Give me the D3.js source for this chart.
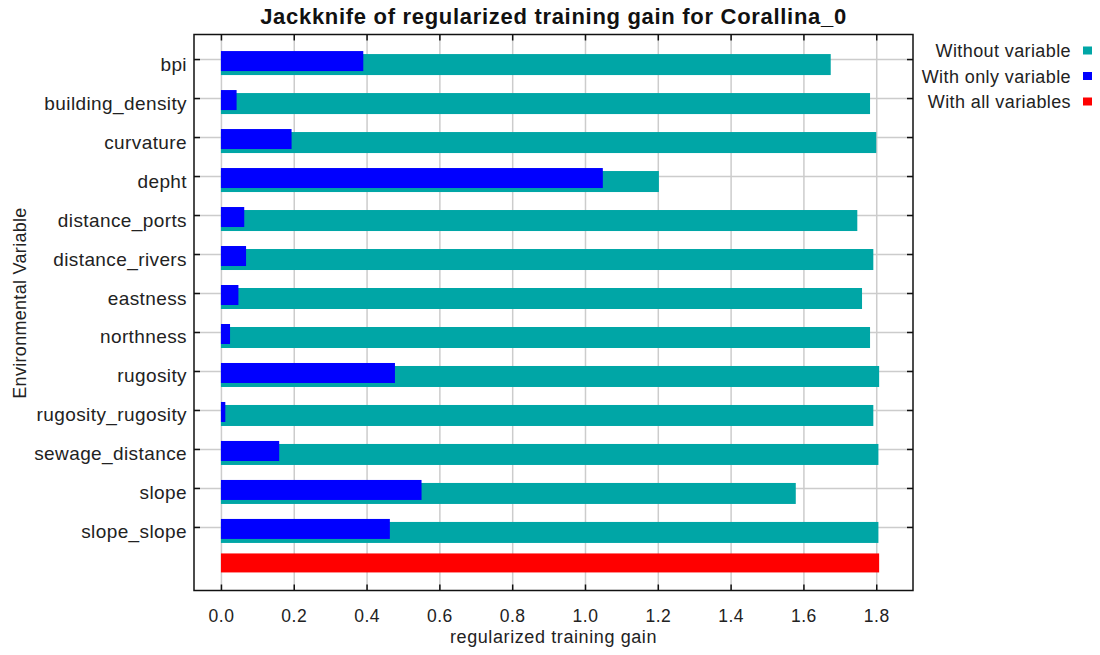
<!DOCTYPE html>
<html>
<head>
<meta charset="utf-8">
<script src="https://cdn.jsdelivr.net/npm/d3@7"></script>
<style>
  html, body { margin: 0; padding: 0; background: #fff; }
  svg { display: block; font-family: "Liberation Sans", Arial, sans-serif; }
</style>
</head>
<body>
<svg id="chart" width="1100" height="655"></svg>
<script>
// Jackknife test results (regularized training gain)
const categories = [
  "bpi", "building_density", "curvature", "depht", "distance_ports",
  "distance_rivers", "eastness", "northness", "rugosity",
  "rugosity_rugosity", "sewage_distance", "slope", "slope_slope"
];
const withoutVariable = [1.675, 1.783, 1.800, 1.203, 1.748, 1.792, 1.761, 1.783, 1.808, 1.792, 1.806, 1.579, 1.806];
const withOnlyVariable = [0.391, 0.043, 0.194, 1.049, 0.064, 0.069, 0.048, 0.025, 0.478, 0.012, 0.160, 0.551, 0.464];
const withAllVariables = 1.808;
const xTicks = [0.0, 0.2, 0.4, 0.6, 0.8, 1.0, 1.2, 1.4, 1.6, 1.8];
const seriesNames = ["Without variable", "With only variable", "With all variables"];
const seriesColors = ["#00A6A6", "#0000FF", "#FF0000"];

const svg = d3.select("#chart");
const plot = { left: 194, right: 913, top: 34.5, bottom: 590.5 };
const ALL = "";  // unlabeled row holding the all-variables bar

const x = d3.scaleLinear().domain([-0.074, 1.901]).range([plot.left, plot.right]);
const y = d3.scalePoint().domain(categories.concat([ALL])).range([plot.top, plot.bottom]).padding(0.63);
const color = d3.scaleOrdinal().domain(seriesNames).range(seriesColors);

// per-series vertical placement of the bar relative to its row tick
const barBand = {
  "Without variable": { dy: -5, h: 21 },
  "With only variable": { dy: -8, h: 20 },
  "With all variables": { dy: -12.5, h: 19 }
};

const fmt = d3.format(".1f");

// grid lines
svg.append("g")
  .attr("transform", `translate(0,${plot.bottom})`)
  .call(d3.axisBottom(x).tickValues(xTicks).tickSize(-(plot.bottom - plot.top)).tickFormat(""))
  .call(g => g.select(".domain").remove())
  .call(g => g.selectAll("line").attr("stroke", "#cccccc").attr("stroke-width", 1.5));
svg.append("g")
  .attr("transform", `translate(${plot.left},0)`)
  .call(d3.axisLeft(y).tickValues(categories).tickSize(-(plot.right - plot.left)).tickFormat(""))
  .call(g => g.select(".domain").remove())
  .call(g => g.selectAll("line").attr("stroke", "#cccccc").attr("stroke-width", 1.5));

// bars: without variable first, then with only variable on top
const rows = categories.map((c, i) => ({ cat: c, without: withoutVariable[i], only: withOnlyVariable[i] }));

svg.append("g").selectAll("rect")
  .data(rows).join("rect")
  .attr("x", x(0))
  .attr("y", d => y(d.cat) + barBand["Without variable"].dy)
  .attr("width", d => x(d.without) - x(0))
  .attr("height", barBand["Without variable"].h)
  .attr("fill", color("Without variable"));

svg.append("g").selectAll("rect")
  .data(rows).join("rect")
  .attr("x", x(0))
  .attr("y", d => y(d.cat) + barBand["With only variable"].dy)
  .attr("width", d => x(d.only) - x(0))
  .attr("height", barBand["With only variable"].h)
  .attr("fill", color("With only variable"));

svg.append("rect")
  .attr("x", x(0))
  .attr("y", y(ALL) + barBand["With all variables"].dy)
  .attr("width", x(withAllVariables) - x(0))
  .attr("height", barBand["With all variables"].h)
  .attr("fill", color("With all variables"));

// axes with inward ticks on all four sides
const tickStyle = g => {
  g.select(".domain").remove();
  g.selectAll("line").attr("stroke", "#111").attr("stroke-width", 1.5);
  g.selectAll("text").attr("fill", "#222");
};

svg.append("g")
  .attr("transform", `translate(0,${plot.bottom})`)
  .call(d3.axisBottom(x).tickValues(xTicks).tickFormat(fmt).tickSize(-6).tickPadding(19))
  .call(tickStyle)
  .call(g => g.selectAll("text").attr("font-size", 17.5).attr("letter-spacing", 0.5));

svg.append("g")
  .attr("transform", `translate(0,${plot.top})`)
  .call(d3.axisTop(x).tickValues(xTicks).tickFormat("").tickSize(-6))
  .call(tickStyle);

svg.append("g")
  .attr("transform", `translate(${plot.left},0)`)
  .call(d3.axisLeft(y).tickValues(categories).tickSize(-6).tickPadding(7))
  .call(tickStyle)
  .call(g => g.selectAll("text").attr("dy", 11).attr("font-size", 19).attr("letter-spacing", 0.4));

svg.append("g")
  .attr("transform", `translate(${plot.right},0)`)
  .call(d3.axisRight(y).tickValues(categories).tickFormat("").tickSize(-6))
  .call(tickStyle);

// plot frame
svg.append("rect")
  .attr("x", plot.left).attr("y", plot.top)
  .attr("width", plot.right - plot.left).attr("height", plot.bottom - plot.top)
  .attr("fill", "none").attr("stroke", "#111").attr("stroke-width", 1.5);

// titles
svg.append("text")
  .attr("x", (plot.left + plot.right) / 2).attr("y", 24)
  .attr("text-anchor", "middle").attr("font-weight", "bold").attr("font-size", 22)
  .attr("letter-spacing", 0.7).attr("fill", "#111")
  .text("Jackknife of regularized training gain for Corallina_0");

svg.append("text")
  .attr("x", (plot.left + plot.right) / 2).attr("y", 643)
  .attr("text-anchor", "middle").attr("font-size", 18).attr("letter-spacing", 0.6).attr("fill", "#222")
  .text("regularized training gain");

svg.append("text")
  .attr("transform", `translate(26,303) rotate(-90)`)
  .attr("text-anchor", "middle").attr("font-size", 18).attr("letter-spacing", 0.3).attr("fill", "#222")
  .text("Environmental Variable");

// legend
const legend = svg.append("g").selectAll("g")
  .data(seriesNames).join("g")
  .attr("transform", (d, i) => `translate(0,${57 + i * 25.5})`);
legend.append("text")
  .attr("x", 1071).attr("text-anchor", "end")
  .attr("font-size", 18).attr("letter-spacing", 0.4).attr("fill", "#222")
  .text(d => d);
legend.append("rect")
  .attr("x", 1083).attr("y", -10.5).attr("width", 9).attr("height", 8)
  .attr("fill", d => color(d));
</script>
</body>
</html>
